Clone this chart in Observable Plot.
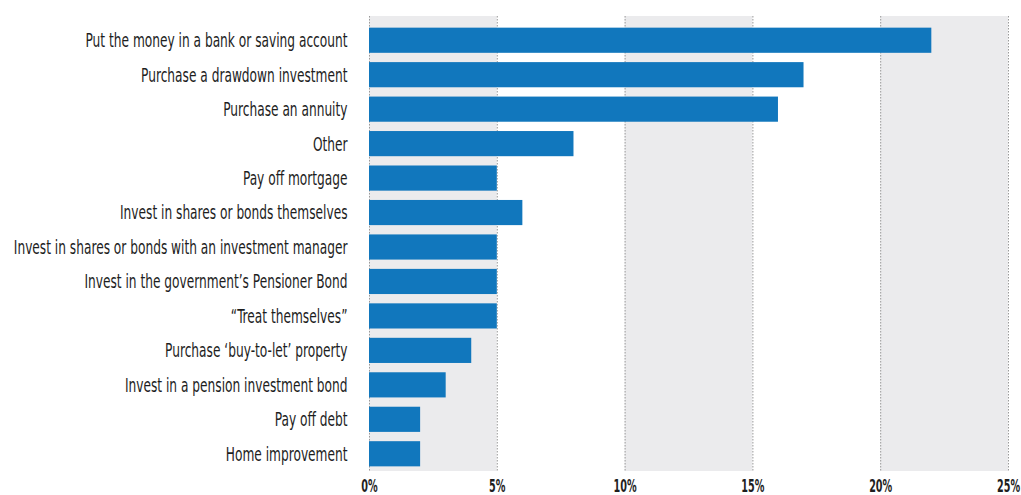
<!DOCTYPE html>
<html>
<head>
<meta charset="utf-8">
<script src="https://cdn.jsdelivr.net/npm/d3@7"></script>
<script src="https://cdn.jsdelivr.net/npm/@observablehq/plot@0.6"></script>
<style>
  html, body { margin: 0; padding: 0; background: #fff; }
  #chart svg { display: block; }
  #chart text { font-family: "DejaVu Sans Condensed", "DejaVu Sans", sans-serif; }
</style>
</head>
<body>
<div id="chart"></div>
<script>
const categories = [
  "Put the money in a bank or saving account",
  "Purchase a drawdown investment",
  "Purchase an annuity",
  "Other",
  "Pay off mortgage",
  "Invest in shares or bonds themselves",
  "Invest in shares or bonds with an investment manager",
  "Invest in the government’s Pensioner Bond",
  "“Treat themselves”",
  "Purchase ‘buy-to-let’ property",
  "Invest in a pension investment bond",
  "Pay off debt",
  "Home improvement"
];
const values = [22, 17, 16, 8, 5, 6, 5, 5, 5, 4, 3, 2, 2];
const tickValues = [0, 5, 10, 15, 20, 25];
const shadedBands = [[0, 5], [10, 15], [20, 25]];

const data = categories.map((c, i) => ({category: c, value: values[i]}));
const bands = shadedBands.map(([a, b]) => ({x1: a, x2: b}));

const chart = Plot.plot({
  width: 1021,
  height: 495,
  marginLeft: 369,
  marginRight: 13,
  marginTop: 23,
  marginBottom: 24,
  style: {fontSize: "20px", color: "#1e1e1e", background: "#fff"},
  x: {domain: [0, 25], label: null},
  y: {domain: categories, paddingInner: 0.27, paddingOuter: 0.135, round: false, label: null},
  marks: [
    Plot.rectX(bands, {x1: "x1", x2: "x2", fill: "#ebebed", insetTop: -7}),
    Plot.ruleX(tickValues, {stroke: "#9a9a9a", strokeDasharray: "1.5,1.5", strokeWidth: 1, insetTop: -7}),
    Plot.barX(data, {x: "value", y: "category", fill: "#1177bd"}),
    Plot.axisY({tickSize: 0, tickPadding: 22, fontSize: 20, className: "ylab"}),
    Plot.axisX({ticks: tickValues, tickFormat: d => d + "%", tickSize: 0, tickPadding: 8, fontSize: 18, fontWeight: "bold", className: "xlab"})
  ]
});
document.getElementById("chart").appendChild(chart);

// Condense text to mimic the reference's narrow typeface
function condense(selector, k) {
  chart.querySelectorAll(selector + " text").forEach(t => {
    const w = t.getComputedTextLength();
    t.setAttribute("textLength", (w * k).toFixed(1));
    t.setAttribute("lengthAdjust", "spacingAndGlyphs");
  });
}
const first = chart.querySelector(".ylab text");
const kY = 262 / first.getComputedTextLength();
condense(".ylab", kY);
condense(".xlab", kY * 0.88);
</script>
</body>
</html>
